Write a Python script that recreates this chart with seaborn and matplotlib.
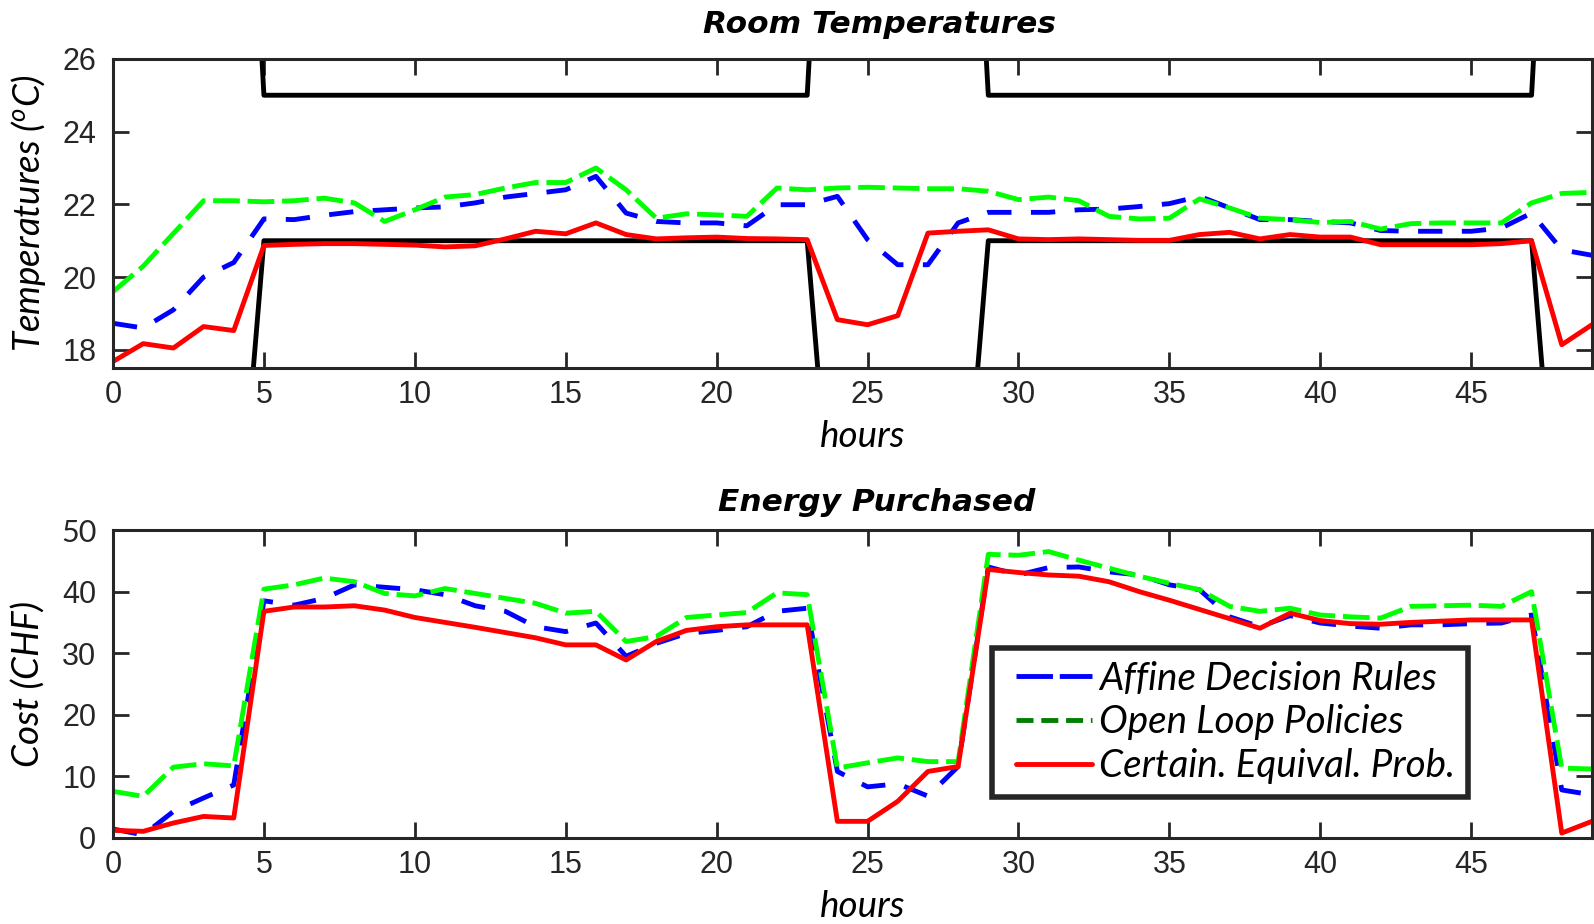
import matplotlib
matplotlib.use("Agg")
import matplotlib.pyplot as plt
import seaborn as sns
import pandas as pd
from matplotlib.lines import Line2D
from matplotlib.legend_handler import HandlerLine2D

# ---------------- data ----------------
hours = list(range(50))

temp_affine = [18.73, 18.6, 19.1, 20.0, 20.4, 21.6, 21.58, 21.7, 21.8, 21.85,
               21.9, 21.93, 22.04, 22.2, 22.3, 22.4, 22.77, 21.76, 21.53, 21.49,
               21.49, 21.41, 21.99, 21.99, 22.22, 21.03, 20.34, 20.34, 21.49, 21.78,
               21.78, 21.78, 21.85, 21.87, 21.94, 22.02, 22.22, 21.9, 21.58, 21.58,
               21.53, 21.49, 21.28, 21.26, 21.26, 21.26, 21.35, 21.76, 20.75, 20.6]
temp_open = [19.6, 20.3, 21.2, 22.1, 22.1, 22.07, 22.1, 22.17, 22.04, 21.53,
             21.85, 22.2, 22.27, 22.45, 22.6, 22.6, 23.0, 22.4, 21.62, 21.74,
             21.71, 21.67, 22.45, 22.4, 22.45, 22.47, 22.45, 22.43, 22.43, 22.36,
             22.13, 22.2, 22.1, 21.67, 21.6, 21.62, 22.15, 21.9, 21.62, 21.58,
             21.5, 21.53, 21.32, 21.47, 21.49, 21.49, 21.49, 22.04, 22.3, 22.33]
temp_ce = [17.68, 18.17, 18.05, 18.64, 18.53, 20.87, 20.9, 20.92, 20.92, 20.9,
           20.88, 20.83, 20.86, 21.05, 21.26, 21.19, 21.49, 21.17, 21.05, 21.08,
           21.1, 21.06, 21.05, 21.03, 18.83, 18.69, 18.94, 21.21, 21.26, 21.3,
           21.05, 21.03, 21.05, 21.03, 21.01, 21.01, 21.17, 21.23, 21.05, 21.17,
           21.1, 21.1, 20.89, 20.89, 20.89, 20.89, 20.92, 21.0, 18.14, 18.69]
upper_bound = [40, 40, 40, 40, 40, 25, 25, 25, 25, 25,
               25, 25, 25, 25, 25, 25, 25, 25, 25, 25,
               25, 25, 25, 25, 40, 40, 40, 40, 40, 25,
               25, 25, 25, 25, 25, 25, 25, 25, 25, 25,
               25, 25, 25, 25, 25, 25, 25, 25, 40, 40]
lower_bound = [11, 11, 11, 11, 11, 21, 21, 21, 21, 21,
               21, 21, 21, 21, 21, 21, 21, 21, 21, 21,
               21, 21, 21, 21, 11, 11, 11, 11, 11, 21,
               21, 21, 21, 21, 21, 21, 21, 21, 21, 21,
               21, 21, 21, 21, 21, 21, 21, 21, 11, 11]

cost_affine = [1.46, 0.5, 4.3, 6.5, 8.6, 38.5, 37.8, 38.9, 41.1, 40.7,
               40.3, 39.5, 37.7, 36.8, 34.3, 33.5, 34.9, 29.5, 31.6, 33.2,
               33.7, 34.3, 36.8, 37.3, 10.8, 8.3, 8.8, 6.8, 11.6, 44.0,
               42.7, 43.9, 44.0, 43.2, 42.7, 41.1, 40.3, 35.9, 34.3, 36.1,
               34.9, 34.4, 34.05, 34.6, 34.6, 34.8, 34.9, 36.2, 7.8, 7.0]
cost_open = [7.57, 6.76, 11.5, 12.05, 11.7, 40.4, 41.1, 42.2, 41.6, 39.7,
             39.3, 40.5, 39.7, 38.9, 38.1, 36.5, 36.8, 31.9, 32.7, 35.8,
             36.2, 36.6, 39.8, 39.5, 11.35, 12.2, 13.0, 12.4, 12.4, 46.05,
             45.9, 46.5, 45.1, 43.8, 42.5, 41.35, 40.3, 37.6, 36.8, 37.3,
             36.2, 35.9, 35.7, 37.6, 37.7, 37.8, 37.6, 40.0, 11.35, 11.2]
cost_ce = [1.24, 1.08, 2.43, 3.5, 3.24, 36.8, 37.5, 37.5, 37.7, 37.0,
           35.8, 35.0, 34.2, 33.35, 32.5, 31.35, 31.35, 28.9, 31.9, 33.7,
           34.3, 34.6, 34.6, 34.6, 2.7, 2.7, 5.95, 10.8, 11.6, 43.6,
           43.1, 42.7, 42.5, 41.6, 40.0, 38.6, 37.1, 35.6, 34.05, 36.5,
           35.3, 34.8, 34.7, 35.0, 35.2, 35.4, 35.4, 35.4, 0.8, 2.7]

series_names = ["Affine Decision Rules", "Open Loop Policies", "Certain. Equival. Prob."]
x_ticks = [0, 5, 10, 15, 20, 25, 30, 35, 40, 45]
temp_ticks = [18, 20, 22, 24, 26]
cost_ticks = [0, 10, 20, 30, 40, 50]

# ---------------- style ----------------
sns.set_style("ticks")
plt.rcParams["font.family"] = ["Lato", "DejaVu Sans"]
plt.rcParams["mathtext.fontset"] = "custom"
plt.rcParams["mathtext.it"] = "Lato:italic"
plt.rcParams["mathtext.rm"] = "Lato"

AX_COL = "#262626"
LW = 3.5
LABEL_FS = 26.5
BLUE, GREEN, RED = "#0000FF", "#00FF00", "#FF0000"
blue_dash = (5.0, 4.0)
green_dash = (5.5, 1.6)

fig = plt.figure(figsize=(15.94, 9.24), dpi=100)
ax1 = fig.add_axes([0.0709, 0.6017, 0.9278, 0.3346])
ax2 = fig.add_axes([0.0709, 0.0931, 0.9278, 0.3333])

df_t = pd.DataFrame({"hours": hours, "affine": temp_affine, "open": temp_open,
                     "ce": temp_ce, "ub": upper_bound, "lb": lower_bound})
df_c = pd.DataFrame({"hours": hours, "affine": cost_affine, "open": cost_open,
                     "ce": cost_ce})

# comfort bounds
sns.lineplot(data=df_t, x="hours", y="ub", ax=ax1, color="black", linewidth=LW)
sns.lineplot(data=df_t, x="hours", y="lb", ax=ax1, color="black", linewidth=LW)

def draw(ax, df):
    sns.lineplot(data=df, x="hours", y="affine", ax=ax, color=BLUE, linewidth=LW)
    ax.lines[-1].set_dashes(blue_dash)
    sns.lineplot(data=df, x="hours", y="open", ax=ax, color=GREEN, linewidth=LW)
    ax.lines[-1].set_dashes(green_dash)
    sns.lineplot(data=df, x="hours", y="ce", ax=ax, color=RED, linewidth=LW)

draw(ax1, df_t)
draw(ax2, df_c)

for ax in (ax1, ax2):
    ax.set_xlim(0, 49)
    ax.set_xticks(x_ticks)
    ax.tick_params(direction="in", top=True, right=True, length=11.5, width=2,
                   color=AX_COL, labelcolor=AX_COL, labelsize=22)
    ax.tick_params(axis="x", pad=8.5)
    ax.tick_params(axis="y", pad=12)
    for lab in ax.get_xticklabels() + ax.get_yticklabels():
        lab.set_fontfamily(["Liberation Sans", "DejaVu Sans"])
    for sp in ax.spines.values():
        sp.set_visible(True)
        sp.set_color(AX_COL)
        sp.set_linewidth(2.2)
    ax.set_xlabel("hours", fontsize=LABEL_FS, style="italic", color="black")
    ax.xaxis.set_label_coords(0.507, -0.222)
    ax.xaxis.label.set_va("center")

ax1.set_ylim(17.5, 26)
ax1.set_yticks(temp_ticks)
ax2.set_ylim(0, 50)
ax2.set_yticks(cost_ticks)

ax1.set_ylabel(r"Temperatures ($^o$C)", fontsize=LABEL_FS, style="italic", color="black")
ax2.set_ylabel("Cost (CHF)", fontsize=LABEL_FS, style="italic", color="black")
for ax in (ax1, ax2):
    ax.yaxis.set_label_coords(-0.057, 0.5)
    ax.yaxis.label.set_va("center")

title_font = dict(fontsize=22.5, fontweight="bold", style="italic",
                  family=["DejaVu Sans"], va="baseline", color="black")
ax1.set_title("Room Temperatures", x=0.5186, y=1.085, pad=0, **title_font)
ax2.set_title("Energy Purchased", x=0.5163, y=1.062, pad=0, **title_font)

handles = [
    Line2D([], [], color=BLUE, linewidth=LW, dashes=(7.5, 1.4)),
    Line2D([], [], color="#007F00", linewidth=LW, dashes=(3.5, 1.6)),
    Line2D([], [], color=RED, linewidth=LW),
]
hmap = {h: HandlerLine2D(xpad=0.3) for h in handles}
leg = ax2.legend(handles, series_names, loc="upper left",
                 bbox_to_anchor=(0.5943, 0.617), fontsize=27.8, frameon=True,
                 fancybox=False, framealpha=1, edgecolor=AX_COL,
                 handlelength=2.25, handletextpad=0.2, labelspacing=0.2,
                 borderpad=0.33, borderaxespad=0, handler_map=hmap)
leg.get_frame().set_linewidth(4)
for t in leg.get_texts():
    t.set_fontstyle("italic")
    t.set_color("black")

fig.savefig("out.png", dpi=100)
